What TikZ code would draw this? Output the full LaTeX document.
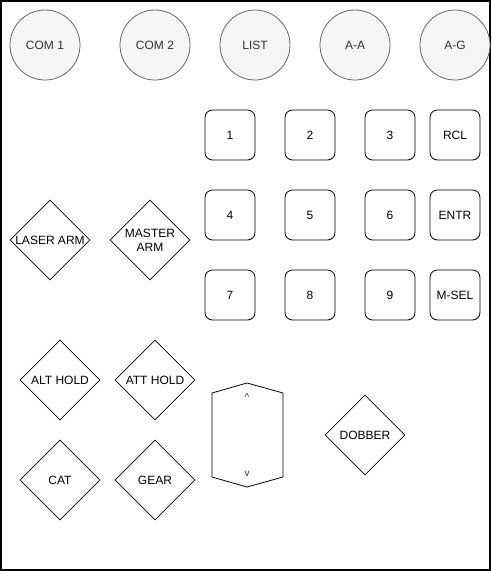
\documentclass[tikz,border=0pt]{standalone}
\usepackage{fontspec}
\setmainfont{Liberation Sans}
\usetikzlibrary{shapes.geometric}
\definecolor{circfill}{HTML}{F5F5F5}
\definecolor{circline}{HTML}{666666}
\definecolor{txtgray}{HTML}{333333}
\begin{document}
\begin{tikzpicture}[x=1pt,y=-1pt,
  every node/.style={font=\fontsize{12}{14}\selectfont},
  circbtn/.style={circle,draw=circline,fill=circfill,line width=0.8pt,minimum size=70pt,inner sep=0pt,text=txtgray},
  keybox/.style={rectangle,rounded corners=7.5pt,draw=black,line width=0.8pt,minimum width=50pt,minimum height=50pt,inner sep=0pt},
  diabox/.style={diamond,aspect=1,draw=black,line width=0.8pt,minimum width=80pt,minimum height=80pt,inner sep=0pt},
  dtext/.style={align=center,inner sep=0pt,text=black,font=\fontsize{12}{14}\selectfont}
]
\useasboundingbox (0,0) rectangle (491,571);
\draw[line width=2pt] (1,1) rectangle (490,570);
% circles
\node[circbtn] (com1) at (45,45) {COM 1};
\node[circbtn] (com2) at (155,45) {COM 2};
\node[circbtn] (list) at (255,45) {LIST};
\node[circbtn] (aa) at (355,45) {A-A};
\node[circbtn] (ag) at (455,45) {A-G};
% keypad
\node[keybox] (k1) at (230,135) {1};
\node[keybox] (k2) at (310,135) {2};
\node[keybox] (k3) at (390,135) {3};
\node[keybox] (rcl) at (455,135) {RCL};
\node[keybox] (k4) at (230,215) {4};
\node[keybox] (k5) at (310,215) {5};
\node[keybox] (k6) at (390,215) {6};
\node[keybox] (entr) at (455,215) {ENTR};
\node[keybox] (k7) at (230,295) {7};
\node[keybox] (k8) at (310,295) {8};
\node[keybox] (k9) at (390,295) {9};
\node[keybox] (msel) at (455,295) {M-SEL};
% diamonds
\node[diabox,label={[dtext]center:LASER ARM}] (laser) at (50,240) {};
\node[diabox,label={[dtext]center:MASTER\\ARM}] (master) at (150,240) {};
\node[diabox,label={[dtext]center:ALT HOLD}] (alt) at (60,380) {};
\node[diabox,label={[dtext]center:ATT HOLD}] (att) at (155,380) {};
\node[diabox,label={[dtext]center:CAT}] (cat) at (60,480) {};
\node[diabox,label={[dtext]center:GEAR}] (gear) at (155,480) {};
\node[diabox,label={[dtext]center:DOBBER}] (dobber) at (365,435) {};
% hexagon slider
\draw[line width=0.8pt] (247,383) -- (283,393) -- (283,477) -- (247,487) -- (212,477) -- (212,393) -- cycle;
\node[text=txtgray,font=\fontsize{10}{12}\selectfont] (up) at (247,397) {\^{}};
\node[text=txtgray,font=\fontsize{10}{12}\selectfont] (dn) at (247,474) {v};
\end{tikzpicture}
\end{document}
